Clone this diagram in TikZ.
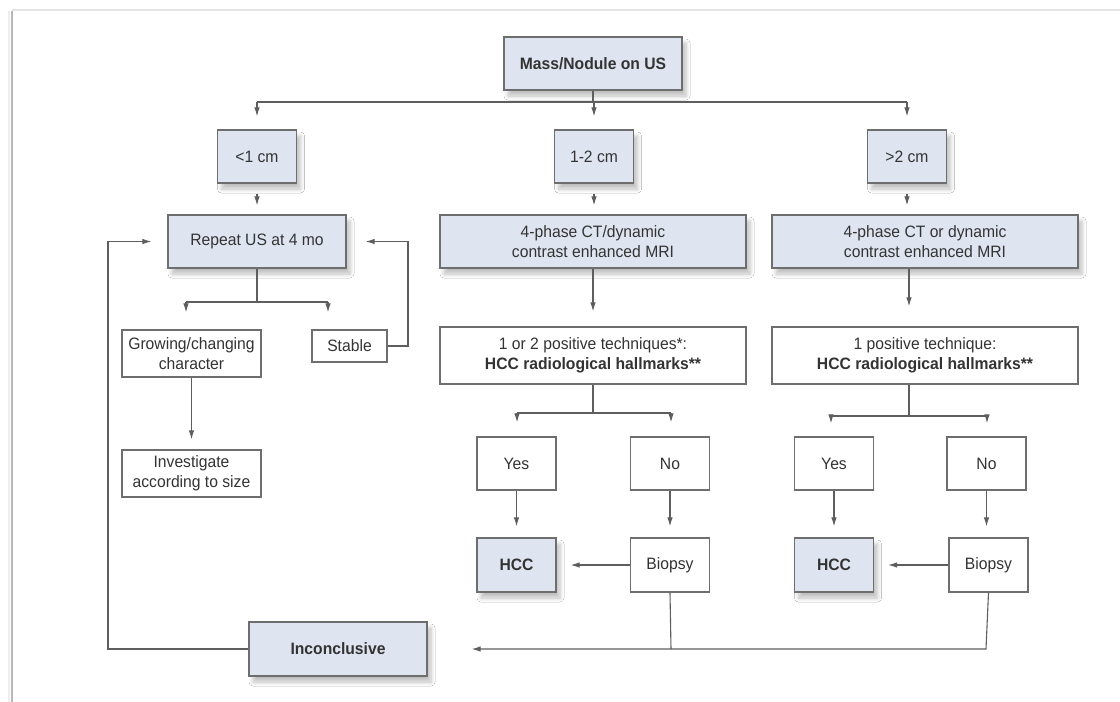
\documentclass[tikz,border=0pt]{standalone}
\usepackage{fontspec}
\setmainfont{Liberation Sans}[FakeStretch=0.95]
\usetikzlibrary{arrows.meta,shadows.blur}
\definecolor{boxfill}{HTML}{DEE5F1}
\definecolor{boxline}{HTML}{6E6E6E}
\definecolor{txt}{HTML}{333333}
\definecolor{wire}{HTML}{5E5E5E}
\tikzset{
  basebox/.style={draw=boxline, line width=1.2pt, text=txt, align=center,
    inner sep=2pt, font=\fontsize{16.5}{20}\selectfont},
  bluebox/.style={basebox, fill=boxfill,
    blur shadow={shadow xshift=4pt, shadow yshift=-6pt, shadow blur radius=4pt,
      shadow blur steps=6, shadow opacity=25}},
  whitebox/.style={basebox, fill=white},
  wire/.style={draw=wire, line width=1.1pt},
  arr/.style={wire, -{Latex[length=9pt,width=5.5pt]}},
}
\begin{document}
\begin{tikzpicture}[x=1pt,y=-1pt]
\useasboundingbox (0,0) rectangle (1120,702);
% page edge
\fill[white] (12,11) rectangle (1120,702);
\draw[line width=2pt, black!10] (12,10) -- (1120,10);
\draw[line width=2.2pt, black!28] (12,11) -- (12,702);
\draw[line width=2pt, black!7] (9,11) -- (9,702);

% top level
\node[bluebox, minimum width=178pt, minimum height=53pt] (mass) at (593,63.5) {\textbf{Mass/Nodule on US}};

% size classes
\node[bluebox, minimum width=79pt, minimum height=53pt] (lt1) at (257,156.5) {<1 cm};
\node[bluebox, minimum width=79pt, minimum height=53pt] (b12) at (594,156.5) {1-2 cm};
\node[bluebox, minimum width=79pt, minimum height=53pt] (gt2) at (907,156.5) {>2 cm};

% imaging
\node[bluebox, minimum width=178pt, minimum height=53pt] (repeat) at (257,241.5) {Repeat US at 4 mo};
\node[bluebox, minimum width=306pt, minimum height=53pt] (ct1) at (593,241.5) {4-phase CT/dynamic\\contrast enhanced MRI};
\node[bluebox, minimum width=306pt, minimum height=53pt] (ct2) at (925,241.5) {4-phase CT or dynamic\\contrast enhanced MRI};

% small nodule follow-up
\node[whitebox, minimum width=139pt, minimum height=47pt] (grow) at (191.5,353.5) {Growing/changing\\character};
\node[whitebox, minimum width=75pt, minimum height=32pt] (stable) at (349.5,346) {Stable};
\node[whitebox, minimum width=139pt, minimum height=47pt] (invest) at (191.5,473.5) {Investigate\\according to size};

% hallmark criteria
\node[whitebox, minimum width=306pt, minimum height=57pt] (pos1) at (593,355.5) {1 or 2 positive techniques*:\\\textbf{HCC radiological hallmarks**}};
\node[whitebox, minimum width=306pt, minimum height=57pt] (pos2) at (925,355.5) {1 positive technique:\\\textbf{HCC radiological hallmarks**}};

% outcomes
\node[whitebox, minimum width=79pt, minimum height=53pt] (yes1) at (516.5,463.5) {Yes};
\node[whitebox, minimum width=79pt, minimum height=53pt] (no1) at (670,463.5) {No};
\node[bluebox, minimum width=79pt, minimum height=54pt] (hcc1) at (516.5,565) {\textbf{HCC}};
\node[whitebox, minimum width=79pt, minimum height=54pt] (bio1) at (670,565) {Biopsy};

\node[whitebox, minimum width=79pt, minimum height=53pt] (yes2) at (834,463.5) {Yes};
\node[whitebox, minimum width=79pt, minimum height=53pt] (no2) at (986.5,463.5) {No};
\node[bluebox, minimum width=79pt, minimum height=54pt] (hcc2) at (834,565) {\textbf{HCC}};
\node[whitebox, minimum width=79pt, minimum height=54pt] (bio2) at (988.5,565) {Biopsy};

\node[bluebox, minimum width=178pt, minimum height=54pt] (inc) at (338,649) {\textbf{Inconclusive}};

% branch points
\coordinate (br0) at (593,102);
\coordinate (brA) at (257,302);
\coordinate (gA) at (186,302);
\coordinate (sA) at (328,302);
\coordinate (sR) at (408,346);
\coordinate (br1) at (593,413);
\coordinate (y1) at (517,413);
\coordinate (n1) at (671,413);
\coordinate (br2) at (909,416);
\coordinate (y2) at (831,416);
\coordinate (n2) at (987,416);
\coordinate (jn) at (671,649);
\coordinate (jr) at (986,649);
\coordinate (lp) at (108,649);

% size split
\draw[wire] (mass.south) -- (br0);
\draw[wire] (br0 -| lt1) -- (br0 -| gt2);
\draw[arr, shorten >=13pt] (br0 -| lt1) -- (lt1.north);
\draw[arr, shorten >=13pt] (br0 -| b12) -- (b12.north);
\draw[arr, shorten >=13pt] (br0 -| gt2) -- (gt2.north);

\draw[arr, shorten <=10pt, shorten >=9pt] (lt1.south) -- (lt1.south |- repeat.north);
\draw[arr, shorten <=10pt, shorten >=9pt] (b12.south) -- (b12.south |- ct1.north);
\draw[arr, shorten <=10pt, shorten >=9pt] (gt2.south) -- (gt2.south |- ct2.north);

% small nodule branch
\draw[wire] (repeat.south) -- (brA);
\draw[wire] (gA) -- (sA);
\draw[arr, shorten >=17pt] (gA) -- (gA |- grow.north);
\draw[arr, shorten >=17pt] (sA) -- (sA |- stable.north);
\draw[arr, shorten >=10pt] (grow.south) -- (invest.north);
\draw[arr, shorten >=19pt] (stable.east) -- (sR) |- (repeat.east);

% imaging to criteria
\draw[arr, shorten >=15pt] (ct1.south) -- (pos1.north);
\draw[arr, shorten >=20pt] (ct2.south -| br2) -- (pos2.north -| br2);

% criteria split
\draw[wire] (pos1.south) -- (br1);
\draw[wire] (y1) -- (n1);
\draw[arr, shorten >=14pt] (y1) -- (y1 |- yes1.north);
\draw[arr, shorten >=14pt] (n1) -- (n1 |- no1.north);
\draw[wire] (pos2.south -| br2) -- (br2);
\draw[wire] (y2) -- (n2);
\draw[arr, shorten >=13pt] (y2) -- (y2 |- yes2.north);
\draw[arr, shorten >=13pt] (n2) -- (n2 |- no2.north);

\draw[arr, shorten >=11pt] (yes1) -- (hcc1);
\draw[arr, shorten >=11pt] (no1) -- (bio1);
\draw[arr, shorten >=11pt] (yes2) -- (hcc2);
\draw[arr, shorten >=11pt] (no2.south) -- (no2.south |- bio2.north);
\draw[arr, shorten >=14pt] (bio1) -- (hcc1);
\draw[arr, shorten >=14pt] (bio2) -- (hcc2);

% inconclusive loop
\draw[wire] (bio1.south) -- (jn);
\draw[arr, shorten >=44pt] (bio2.south) -- (jr) -- (inc.east);
\draw[arr, shorten >=16pt] (inc.west) -- (lp) |- (repeat.west);
\end{tikzpicture}
\end{document}
